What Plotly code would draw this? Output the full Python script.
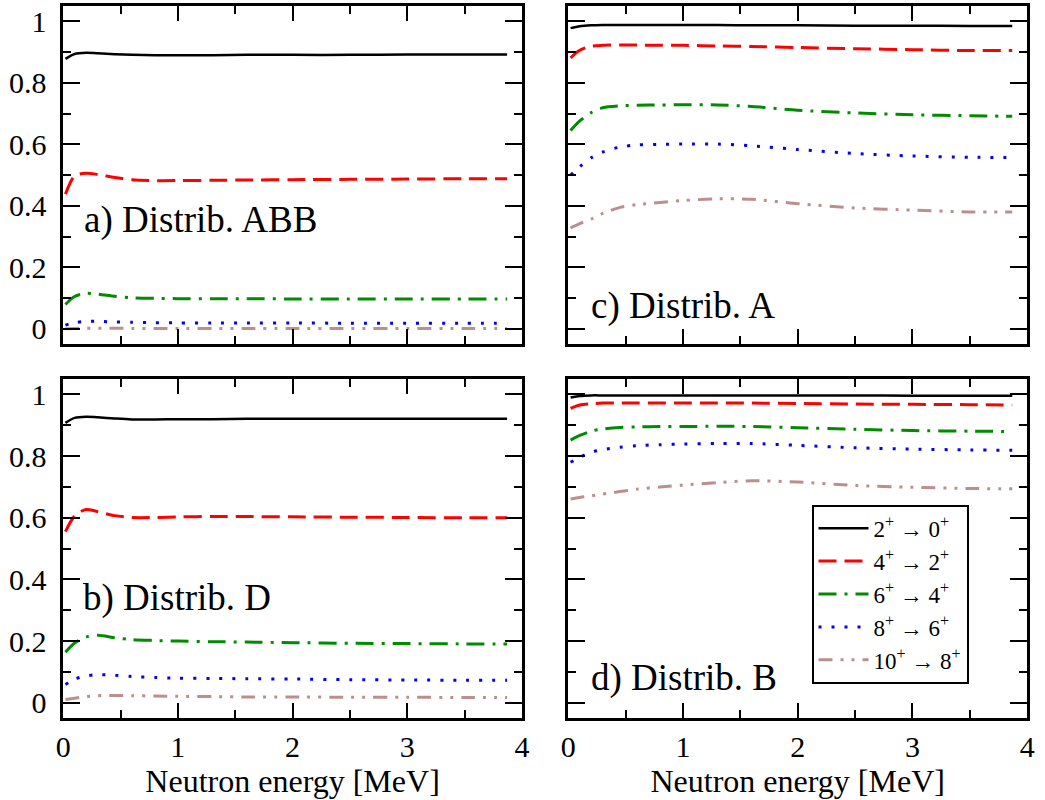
import plotly.graph_objects as go

# ---------------- data ----------------
energy = [0.02, 0.1, 0.2, 0.3, 0.45, 0.6, 0.8, 1.0, 1.3, 1.6, 2.0, 2.5, 3.0, 3.5, 3.87]

transitions = ["2<sup>+</sup> → 0<sup>+</sup>", "4<sup>+</sup> → 2<sup>+</sup>",
               "6<sup>+</sup> → 4<sup>+</sup>", "8<sup>+</sup> → 6<sup>+</sup>",
               "10<sup>+</sup> → 8<sup>+</sup>"]

# a) Distrib. ABB
abb_2_0 = [0.878, 0.894, 0.898, 0.896, 0.893, 0.891, 0.890, 0.890, 0.890, 0.891, 0.891, 0.891, 0.892, 0.892, 0.892]
abb_4_2 = [0.438, 0.497, 0.506, 0.502, 0.492, 0.485, 0.482, 0.482, 0.483, 0.484, 0.485, 0.486, 0.487, 0.488, 0.488]
abb_6_4 = [0.079, 0.105, 0.115, 0.113, 0.106, 0.101, 0.099, 0.098, 0.098, 0.098, 0.097, 0.097, 0.097, 0.097, 0.097]
abb_8_6 = [0.012, 0.020, 0.024, 0.024, 0.022, 0.021, 0.020, 0.019, 0.019, 0.019, 0.019, 0.018, 0.018, 0.018, 0.018]
abb_10_8 = [0.000, 0.001, 0.002, 0.002, 0.002, 0.001, 0.001, 0.001, 0.001, 0.001, 0.001, 0.001, 0.001, 0.001, 0.001]

# c) Distrib. A
a_2_0 = [0.978, 0.984, 0.987, 0.988, 0.988, 0.988, 0.988, 0.988, 0.988, 0.987, 0.987, 0.986, 0.986, 0.985, 0.985]
a_4_2 = [0.881, 0.906, 0.919, 0.922, 0.923, 0.923, 0.922, 0.922, 0.920, 0.918, 0.915, 0.911, 0.908, 0.905, 0.905]
a_6_4 = [0.645, 0.676, 0.703, 0.719, 0.725, 0.727, 0.728, 0.729, 0.728, 0.723, 0.711, 0.702, 0.696, 0.693, 0.691]
a_8_6 = [0.500, 0.527, 0.556, 0.575, 0.591, 0.598, 0.600, 0.601, 0.601, 0.595, 0.583, 0.570, 0.562, 0.558, 0.557]
a_10_8 = [0.328, 0.342, 0.357, 0.375, 0.395, 0.404, 0.411, 0.417, 0.423, 0.421, 0.407, 0.393, 0.386, 0.380, 0.380]

# b) Distrib. D
d_2_0 = [0.908, 0.924, 0.928, 0.926, 0.922, 0.919, 0.919, 0.920, 0.920, 0.921, 0.921, 0.921, 0.921, 0.921, 0.921]
d_4_2 = [0.555, 0.606, 0.627, 0.620, 0.607, 0.601, 0.601, 0.603, 0.604, 0.604, 0.603, 0.602, 0.601, 0.600, 0.600]
d_6_4 = [0.164, 0.194, 0.213, 0.219, 0.211, 0.205, 0.202, 0.200, 0.198, 0.197, 0.195, 0.193, 0.192, 0.191, 0.191]
d_8_6 = [0.059, 0.077, 0.087, 0.091, 0.089, 0.085, 0.082, 0.080, 0.079, 0.078, 0.077, 0.075, 0.074, 0.073, 0.073]
d_10_8 = [0.011, 0.015, 0.020, 0.023, 0.024, 0.023, 0.022, 0.021, 0.020, 0.019, 0.019, 0.018, 0.018, 0.017, 0.017]

# d) Distrib. B
b_2_0 = [0.990, 0.995, 0.997, 0.997, 0.997, 0.997, 0.997, 0.997, 0.997, 0.997, 0.997, 0.997, 0.996, 0.996, 0.996]
b_4_2 = [0.955, 0.966, 0.970, 0.972, 0.972, 0.972, 0.972, 0.972, 0.972, 0.972, 0.971, 0.969, 0.968, 0.967, 0.966]
b_6_4 = [0.852, 0.867, 0.881, 0.888, 0.893, 0.895, 0.896, 0.896, 0.897, 0.896, 0.892, 0.887, 0.883, 0.881, 0.880]
b_8_6 = [0.780, 0.796, 0.813, 0.821, 0.829, 0.834, 0.837, 0.839, 0.841, 0.841, 0.835, 0.827, 0.823, 0.820, 0.819]
b_10_8 = [0.661, 0.666, 0.671, 0.677, 0.685, 0.693, 0.700, 0.706, 0.714, 0.720, 0.716, 0.705, 0.699, 0.695, 0.694]

panels = [
    ("a) Distrib. ABB", [abb_2_0, abb_4_2, abb_6_4, abb_8_6, abb_10_8]),
    ("c) Distrib. A", [a_2_0, a_4_2, a_6_4, a_8_6, a_10_8]),
    ("b) Distrib. D", [d_2_0, d_4_2, d_6_4, d_8_6, d_10_8]),
    ("d) Distrib. B", [b_2_0, b_4_2, b_6_4, b_8_6, b_10_8]),
]

# ---------------- styles ----------------
colors = ["#000000", "#ff0000", "#008b00", "#0000ff", "#bc8f8f"]
dashes = ["solid", "18px,8px", "18px,8px,3px,8px", "3px,10px", "14px,8px,3px,8px,3px,8px"]
widths = [2.5, 3, 3, 3, 3]
FONT = "Liberation Serif, Times New Roman, serif"

fig = go.Figure()
axis_names = [("x", "y"), ("x2", "y2"), ("x3", "y3"), ("x4", "y4")]
for p, (label, series) in enumerate(panels):
    xa, ya = axis_names[p]
    for i, vals in enumerate(series):
        fig.add_trace(go.Scatter(
            x=energy, y=vals, mode="lines", xaxis=xa, yaxis=ya,
            name=transitions[i], showlegend=(p == 3),
            line=dict(color=colors[i], width=widths[i], dash=dashes[i],
                      shape="spline", smoothing=0.8),
        ))

# ---------------- layout ----------------
W, H = 1045, 800
xdom_left = [56 / W, 522 / W]
xdom_right = [569 / W, 1035 / W]
ydom_top = [(H - 344) / H, (H - 5) / H]
ydom_bot = [(H - 719) / H, (H - 379) / H]


def xaxis(domain, anchor, labels):
    return dict(domain=domain, anchor=anchor, range=[0, 4], dtick=1, tick0=0,
                ticks="inside", ticklen=15, tickwidth=2, tickcolor="black",
                mirror="allticks", showline=True, linewidth=2.5, linecolor="black",
                showgrid=False, zeroline=False, showticklabels=labels,
                tickfont=dict(family=FONT, size=30, color="black"),
                minor=dict(ticks="inside", ticklen=8, tickwidth=2, dtick=0.5,
                           tickcolor="black", showgrid=False),
                title=dict(text="Neutron energy [MeV]" if labels else "",
                           font=dict(family=FONT, size=32, color="black"), standoff=4))


def yaxis(domain, anchor, labels):
    return dict(domain=domain, anchor=anchor, range=[-0.05, 1.05], dtick=0.2, tick0=0,
                ticks="inside", ticklen=17, tickwidth=2, tickcolor="black",
                mirror="allticks", showline=True, linewidth=2.5, linecolor="black",
                showgrid=False, zeroline=False, showticklabels=labels,
                ticklabelstandoff=8,
                tickfont=dict(family=FONT, size=30, color="black"),
                minor=dict(ticks="inside", ticklen=8, tickwidth=2, dtick=0.1,
                           tickcolor="black", showgrid=False))


fig.update_layout(
    width=W, height=H, margin=dict(l=0, r=0, t=0, b=0),
    paper_bgcolor="white", plot_bgcolor="white",
    font=dict(family=FONT, color="black"),
    xaxis=xaxis(xdom_left, "y", False), yaxis=yaxis(ydom_top, "x", True),
    xaxis2=xaxis(xdom_right, "y2", False), yaxis2=yaxis(ydom_top, "x2", False),
    xaxis3=xaxis(xdom_left, "y3", True), yaxis3=yaxis(ydom_bot, "x3", True),
    xaxis4=xaxis(xdom_right, "y4", True), yaxis4=yaxis(ydom_bot, "x4", False),
    legend=dict(x=816 / W, y=(H - 505) / H, xanchor="left", yanchor="top",
                bordercolor="black", borderwidth=2, bgcolor="white",
                font=dict(family=FONT, size=23, color="black"),
                itemwidth=50, tracegroupgap=0),
    showlegend=True,
)

label_pos = [(0.042, 0.366), (0.046, 0.113), (0.040, 0.353), (0.046, 0.118)]
for p, (label, _) in enumerate(panels):
    xa, ya = axis_names[p]
    lx, ly = label_pos[p]
    fig.add_annotation(text=label, xref=f"{xa} domain", yref=f"{ya} domain",
                       x=lx, y=ly, xanchor="left", yanchor="middle", showarrow=False,
                       font=dict(family=FONT, size=37, color="black"))

fig.write_html("out.html")
